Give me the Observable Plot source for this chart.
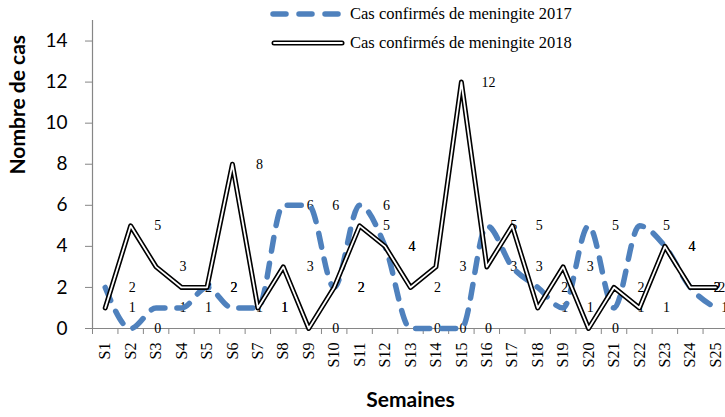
<!DOCTYPE html>
<html>
<head>
<meta charset="utf-8">
<script src="https://cdn.jsdelivr.net/npm/d3@7"></script>
<script src="https://cdn.jsdelivr.net/npm/@observablehq/plot@0.6"></script>
<style>
  html, body { margin: 0; padding: 0; background: #fff; }
  #wrap { position: relative; width: 725px; height: 417px; overflow: hidden; }
  #legend { position: absolute; left: 270px; top: 3px; font-family: "Liberation Serif", "Times New Roman", serif; font-size: 16.5px; color: #000; }
  #legend .row { display: flex; align-items: center; height: 22px; margin-bottom: 7px; white-space: nowrap; }
  #legend svg { margin-right: 4px; }
</style>
</head>
<body>
<div id="wrap">
  <div id="chart"></div>
  <div id="legend"></div>
</div>
<script>
// ---- data ----
const weeks = ["S1","S2","S3","S4","S5","S6","S7","S8","S9","S10","S11","S12","S13","S14","S15","S16","S17","S18","S19","S20","S21","S22","S23","S24","S25"];
const cas2017 = [2,0,1,1,2,1,1,6,6,2,6,4,0,0,0,5,3,2,1,5,1,5,4,2,1];
const cas2018 = [1,5,3,2,2,8,1,3,0,2,5,4,2,3,12,3,5,1,3,0,2,1,4,2,2];
const yTicks = [0,2,4,6,8,10,12,14];
const seriesNames = ["Cas confirmés de meningite 2017", "Cas confirmés de meningite 2018"];

const blue = "#4f81bd";
const axisGray = "#868686";
const serif = "Liberation Serif, Times New Roman, serif";
const sans = "Lato, Open Sans, sans-serif";

const d17 = weeks.map((w, i) => ({i: i + 1, week: w, v: cas2017[i]}));
const d18 = weeks.map((w, i) => ({i: i + 1, week: w, v: cas2018[i]}));
const lastIdx = weeks.length;

const chart = Plot.plot({
  width: 725,
  height: 417,
  marginLeft: 92,
  marginRight: -3,
  marginTop: 20,
  marginBottom: 89,
  style: {background: "transparent", overflow: "visible"},
  x: {type: "linear", domain: [0.5, weeks.length + 0.5], label: null},
  y: {type: "linear", domain: [0, 15], label: null},
  marks: [
    // y axis
    Plot.axisY({ticks: yTicks, tickSize: 7, tickPadding: 18, fontSize: 19, fontFamily: sans, stroke: axisGray, color: "#000", label: null}),
    Plot.frame({anchor: "left", stroke: axisGray, strokeWidth: 1.2}),
    // x axis line
    Plot.ruleY([0], {stroke: axisGray, strokeWidth: 1.2}),
    // x tick marks between categories
    Plot.axisX({ticks: d3.range(0.5, weeks.length + 1, 1), tickFormat: () => "", tickSize: 6, stroke: axisGray, label: null}),
    // x tick labels
    Plot.axisX({ticks: d3.range(1, weeks.length + 1), tickFormat: i => weeks[i - 1], tickSize: 0, tickPadding: 14, tickRotate: -90, fontSize: 16, fontFamily: serif, color: "#000", label: null}),
    // data labels
    Plot.text(d17.filter(d => d.i < lastIdx), {x: "i", y: "v", text: d => String(d.v), dx: 27, fontSize: 14, fontFamily: serif, fill: "black"}),
    Plot.text(d18.filter(d => d.i < lastIdx), {x: "i", y: "v", text: d => String(d.v), dx: 27, fontSize: 14, fontFamily: serif, fill: "black"}),
    Plot.text(d17.filter(d => d.i === lastIdx), {x: "i", y: "v", text: d => String(d.v), dx: 9, fontSize: 14, fontFamily: serif, fill: "black"}),
    Plot.text(d18.filter(d => d.i === lastIdx), {x: "i", y: "v", text: d => String(d.v), dx: 6, fontSize: 14, fontFamily: serif, fill: "black"}),
    // 2017 dashed smooth line
    Plot.line(d17, {x: "i", y: "v", curve: "monotone-x", stroke: blue, strokeWidth: 5.5, strokeDasharray: "14,12", strokeLinecap: "round"}),
    // 2018 double line (black outer, white inner)
    Plot.line(d18, {x: "i", y: "v", stroke: "#000", strokeWidth: 5, strokeLinecap: "round", strokeLinejoin: "round"}),
    Plot.line(d18, {x: "i", y: "v", stroke: "#fff", strokeWidth: 1.8, strokeLinecap: "round", strokeLinejoin: "round"}),
    // axis titles
    Plot.text(["Nombre de cas"], {frameAnchor: "left", dx: -74, rotate: -90, fontSize: 21, fontWeight: "bold", fontFamily: sans, fill: "#000", text: d => d}),
    Plot.text(["Semaines"], {frameAnchor: "bottom", dy: 78, fontSize: 21, fontWeight: "bold", fontFamily: sans, fill: "#000", text: d => d})
  ]
});
document.getElementById("chart").appendChild(chart);

// ---- legend ----
const legend = d3.select("#legend");
const r1 = legend.append("div").attr("class", "row");
const s1 = r1.append("svg").attr("width", 76).attr("height", 14);
s1.append("line").attr("x1", 3).attr("x2", 73).attr("y1", 7).attr("y2", 7)
  .attr("stroke", blue).attr("stroke-width", 5.5).attr("stroke-linecap", "round").attr("stroke-dasharray", "13,13");
r1.append("span").text(seriesNames[0]);
const r2 = legend.append("div").attr("class", "row");
const s2 = r2.append("svg").attr("width", 76).attr("height", 14);
s2.append("line").attr("x1", 4).attr("x2", 72).attr("y1", 7).attr("y2", 7)
  .attr("stroke", "#000").attr("stroke-width", 5).attr("stroke-linecap", "round");
s2.append("line").attr("x1", 4).attr("x2", 72).attr("y1", 7).attr("y2", 7)
  .attr("stroke", "#fff").attr("stroke-width", 1.8).attr("stroke-linecap", "round");
r2.append("span").text(seriesNames[1]);
</script>
</body>
</html>
